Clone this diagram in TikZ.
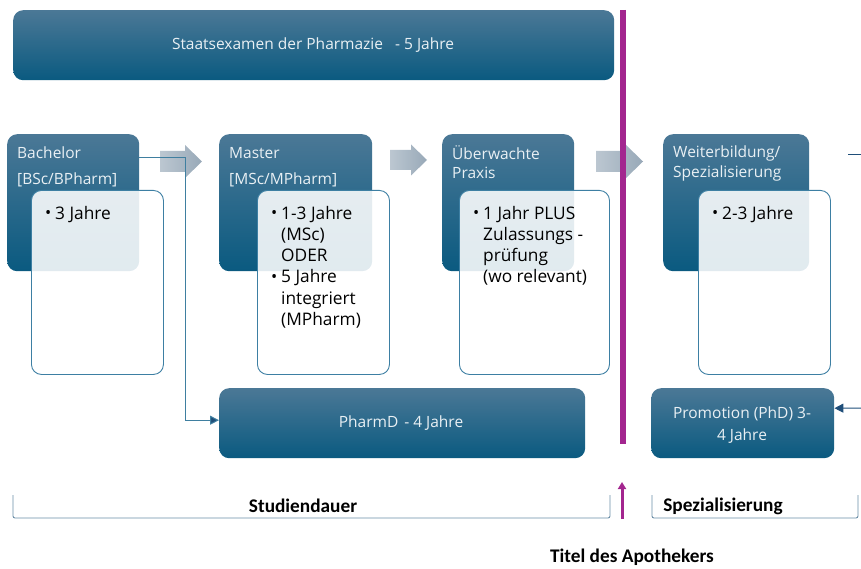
\documentclass[tikz,border=0pt]{standalone}
\usepackage{fontspec}
\setmainfont{Carlito}
\newfontfamily\boxfont{Open Sans}
\usetikzlibrary{arrows.meta}
\definecolor{dtop}{HTML}{4B7896}
\definecolor{dbot}{HTML}{0A5A80}
\definecolor{wline}{HTML}{3D7FA3}
\definecolor{gtl}{HTML}{BCC7D1}
\definecolor{gtr}{HTML}{98A9B8}
\definecolor{purp}{HTML}{A3268F}
\definecolor{brk}{HTML}{6A8DA6}
\definecolor{conn}{HTML}{3F7FA0}
\definecolor{darr}{HTML}{1F4E79}
\definecolor{wtext}{HTML}{E9F0F4}
\tikzset{
  darkbox/.style={rounded corners=10pt, top color=dtop, bottom color=dbot, draw=none, anchor=north west, inner sep=0pt},
  whitebox/.style={rounded corners=10pt, fill=white, fill opacity=0.88, draw=wline, line width=0.9pt, anchor=north west, inner sep=0pt},
  dtext/.style={text=wtext, font=\boxfont\fontsize{15.5}{20}\selectfont, anchor=west, inner sep=0pt},
  wtextst/.style={text=black, font=\boxfont\fontsize{17.3}{21.2}\selectfont, anchor=north west, inner sep=0pt, align=left},
  garrow/.style={left color=gtl, right color=gtr, draw=none},
  connline/.style={draw=conn, line width=1pt},
  lbl/.style={font=\bfseries\fontsize{19.3}{22}\selectfont, text=black, inner sep=0pt},
  bracket/.style={draw=brk, line width=0.9pt}
}
\newcommand{\bul}{\makebox[10pt][l]{\raisebox{0.1ex}{\scalebox{0.95}{•}}}}
% gray block arrow: x0, head start x, tip x, center y, shaft half height, head half height
\newcommand{\grayarrow}[6]{%
  \path[garrow] (#1,#4-#5) -- (#2,#4-#5) -- (#2,#4-#6) -- (#3,#4) -- (#2,#4+#6) -- (#2,#4+#5) -- (#1,#4+#5) -- cycle;}
\begin{document}
\begin{tikzpicture}[x=1pt,y=-1pt]
\useasboundingbox (0,0) rectangle (861,569);
% top bar
\node[darkbox, minimum width=601pt, minimum height=70pt] (top) at (13,10) {};
\node[dtext, anchor=center] (toptext) at (313,45) {Staatsexamen der Pharmazie\hspace{12pt}- 5 Jahre};
% dark boxes
\node[darkbox, minimum width=132pt, minimum height=137pt] (bach) at (7,134) {};
\node[darkbox, minimum width=153pt, minimum height=137pt] (mast) at (219,134) {};
\node[darkbox, minimum width=132pt, minimum height=137pt] (prax) at (442,134) {};
\node[darkbox, minimum width=146pt, minimum height=137pt] (weit) at (663,134) {};
\node[darkbox, minimum width=366pt, minimum height=70pt] (pharmd) at (219,388) {};
\node[darkbox, minimum width=183pt, minimum height=70pt] (promo) at (651,388) {};
% dark box texts
\node[dtext] (bacht1) at (17,153) {Bachelor};
\node[dtext] (bacht2) at (17,180) {[BSc/BPharm]};
\node[dtext] (mastt1) at (229,153) {Master};
\node[dtext] (mastt2) at (229,180) {[MSc/MPharm]};
\node[dtext] (praxt1) at (452,153) {Überwachte};
\node[dtext] (praxt2) at (452,173) {Praxis};
\node[dtext] (weitt1) at (673,153) {Weiterbildung/};
\node[dtext] (weitt2) at (673,173) {Spezialisierung};
\node[dtext, anchor=center] (pharmdt) at (401,423) {PharmD\hspace{6pt}- 4 Jahre};
\node[dtext, anchor=center, align=center, font=\boxfont\fontsize{15.5}{22}\selectfont] (promot) at (742,425) {Promotion (PhD) 3-\\4 Jahre};
% white boxes
\node[whitebox, minimum width=132pt, minimum height=184pt] (bachw) at (31,190) {};
\node[whitebox, minimum width=132pt, minimum height=184pt] (mastw) at (257,190) {};
\node[whitebox, minimum width=150pt, minimum height=184pt] (praxw) at (459,190) {};
\node[whitebox, minimum width=132pt, minimum height=184pt] (weitw) at (698,190) {};
% white box texts
\node[wtextst] (bachwt) at (45,206) {\bul 3 Jahre};
\node[wtextst] (mastwt) at (271,206) {\bul 1-3 Jahre\\\hspace*{10pt}(MSc)\\\hspace*{10pt}ODER\\\bul 5 Jahre\\\hspace*{10pt}integriert\\\hspace*{10pt}(MPharm)};
\node[wtextst] (praxwt) at (473,206) {\bul 1 Jahr PLUS\\\hspace*{10pt}Zulassungs -\\\hspace*{10pt}prüfung\\\hspace*{10pt}(wo relevant)};
\node[wtextst] (weitwt) at (712,206) {\bul 2-3 Jahre};
% gray arrows
\grayarrow{160}{185}{202}{161.5}{10.5}{16.5}
\grayarrow{390}{411}{427}{160}{10}{15.5}
\grayarrow{596}{626}{643}{161.5}{10.5}{16.5}
% connector bachelor -> pharmd
\draw[connline, -{Triangle[length=9pt,width=9pt,fill=darr]}] ([yshift=-24pt]bach.north east) -| ([xshift=-34pt, yshift=3pt]pharmd.west) -- ([yshift=3pt]pharmd.west);
% right edge
\coordinate (r1) at (848,155);
\coordinate (r2) at (861,155);
\draw[draw=darr, line width=1pt] (r1) -- (r2);
\coordinate (r3) at (861,408);
\draw[draw=darr, line width=1pt, -{Triangle[length=9pt,width=9pt]}] (r3) -- ([yshift=15pt]promo.east);
% purple line
\coordinate (p1) at (623,10);
\coordinate (p2) at (623,444);
\draw[purp, line width=6pt] (p1) -- (p2);
% brackets
\draw[bracket, rounded corners=2pt] (13,495) -- (13,518) -- (610,518) -- (610,495);
\draw[bracket, rounded corners=2pt] (652,495) -- (652,518) -- (858,518) -- (858,495);
\node[lbl] (stud) at (303,506) {Studiendauer};
\node[lbl] (spez) at (723,506) {Spezialisierung};
\coordinate (pa1) at (622,519);
\coordinate (pa2) at (622,482);
\draw[purp, line width=3pt, -{Triangle[length=7pt,width=8pt]}] (pa1) -- (pa2);
\node[lbl] (titel) at (632,557) {Titel des Apothekers};
\end{tikzpicture}
\end{document}
